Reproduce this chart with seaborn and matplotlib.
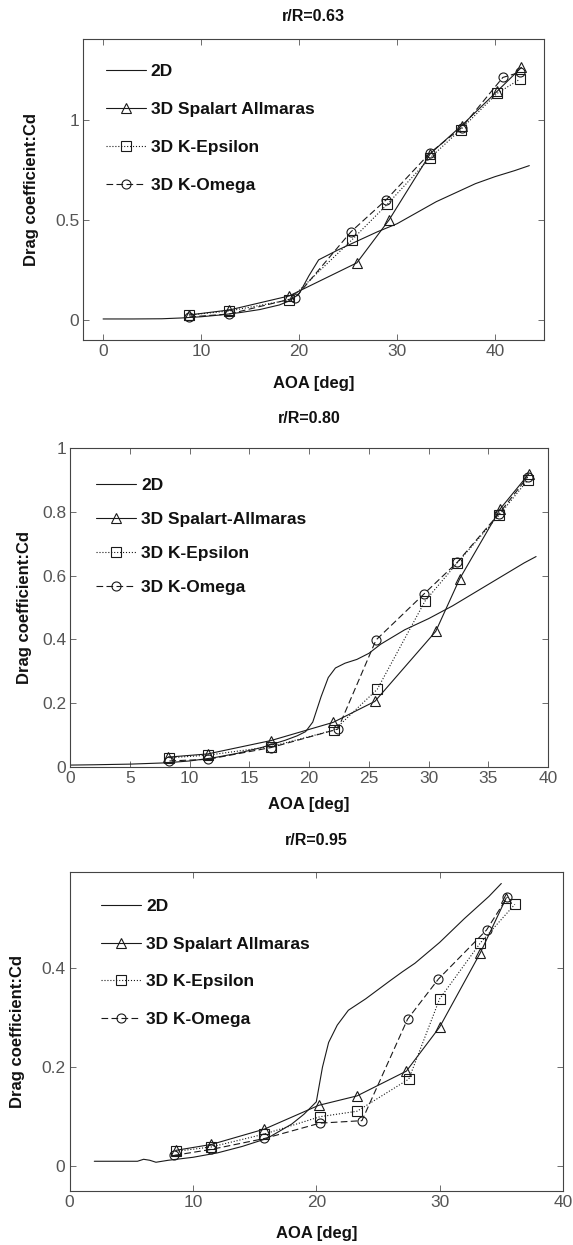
import numpy as np
import pandas as pd
import matplotlib
matplotlib.use("Agg")
import matplotlib.pyplot as plt
from matplotlib.ticker import FuncFormatter
import seaborn as sns

# ---------------- data ----------------
titles = ["r/R=0.63", "r/R=0.80", "r/R=0.95"]
sa_labels = ["3D Spalart Allmaras", "3D Spalart-Allmaras", "3D Spalart Allmaras"]
ke_label = "3D K-Epsilon"
ko_label = "3D K-Omega"
d2_label = "2D"
xlabel = "AOA [deg]"
ylabel = "Drag coefficient:Cd"

# panel 1 (r/R=0.63)
p1_2d_x = [0, 3, 6, 8, 10, 12, 14, 16, 18, 19, 20, 21, 22, 24, 26, 28, 30, 32, 34, 36, 38, 40, 42, 43.5]
p1_2d_y = [0.005, 0.005, 0.006, 0.01, 0.016, 0.025, 0.037, 0.052, 0.075, 0.095, 0.13, 0.22, 0.30, 0.35,
           0.395, 0.44, 0.48, 0.535, 0.59, 0.635, 0.68, 0.715, 0.745, 0.77]
p1_sa_x = [8.8, 12.9, 19.0, 25.9, 29.2, 33.4, 36.6, 40.2, 42.7]
p1_sa_y = [0.025, 0.05, 0.12, 0.285, 0.50, 0.83, 0.97, 1.14, 1.26]
p1_ke_x = [8.8, 12.9, 19.0, 25.4, 29.0, 33.4, 36.5, 40.2, 42.5]
p1_ke_y = [0.025, 0.045, 0.10, 0.40, 0.577, 0.81, 0.95, 1.13, 1.20]
p1_ko_x = [8.8, 12.9, 19.6, 25.3, 28.9, 33.4, 36.6, 40.8, 42.5]
p1_ko_y = [0.015, 0.03, 0.11, 0.44, 0.60, 0.835, 0.96, 1.21, 1.235]

# panel 2 (r/R=0.80)
p2_2d_x = [0, 2, 5, 8, 10, 12, 14, 16, 18, 19, 19.7, 20.3, 21, 21.6, 22.2, 23, 24, 25, 26, 28, 30, 32, 34,
           36, 38, 39]
p2_2d_y = [0.005, 0.006, 0.008, 0.012, 0.018, 0.028, 0.042, 0.06, 0.083, 0.097, 0.11, 0.14, 0.22, 0.28,
           0.31, 0.325, 0.337, 0.356, 0.385, 0.43, 0.465, 0.505, 0.55, 0.595, 0.64, 0.66]
p2_sa_x = [8.2, 11.5, 16.8, 22.0, 25.5, 30.6, 32.6, 36.0, 38.4]
p2_sa_y = [0.03, 0.04, 0.082, 0.139, 0.205, 0.425, 0.59, 0.81, 0.92]
p2_ke_x = [8.3, 11.5, 16.8, 22.1, 25.7, 29.7, 32.4, 35.9, 38.3]
p2_ke_y = [0.028, 0.036, 0.063, 0.115, 0.243, 0.52, 0.64, 0.79, 0.90]
p2_ko_x = [8.3, 11.5, 16.8, 22.4, 25.6, 29.6, 32.4, 35.9, 38.3]
p2_ko_y = [0.018, 0.023, 0.06, 0.118, 0.398, 0.542, 0.642, 0.795, 0.91]

# panel 3 (r/R=0.95)
p3_2d_x = [2, 4, 5.5, 6, 6.5, 7, 8, 10, 12, 14, 16, 18, 19, 20, 20.5, 21, 21.7, 22.6, 24, 26, 27, 28, 30,
           32, 34, 35]
p3_2d_y = [0.01, 0.01, 0.01, 0.014, 0.012, 0.008, 0.012, 0.018, 0.027, 0.04, 0.056, 0.085, 0.105, 0.13,
           0.2, 0.25, 0.285, 0.315, 0.338, 0.375, 0.393, 0.41, 0.452, 0.5, 0.545, 0.571]
p3_sa_x = [8.6, 11.5, 15.8, 20.2, 23.3, 27.3, 30.0, 33.3, 35.4]
p3_sa_y = [0.032, 0.044, 0.075, 0.123, 0.142, 0.192, 0.281, 0.431, 0.542]
p3_ke_x = [8.6, 11.5, 15.8, 20.3, 23.3, 27.5, 30.0, 33.3, 36.1]
p3_ke_y = [0.03, 0.039, 0.065, 0.10, 0.111, 0.176, 0.338, 0.451, 0.529]
p3_ko_x = [8.5, 11.5, 15.8, 20.3, 23.7, 27.4, 29.9, 33.8, 35.5]
p3_ko_y = [0.022, 0.034, 0.056, 0.087, 0.092, 0.297, 0.378, 0.477, 0.544]

# axis ticks / limits
p1_xticks = [0, 10, 20, 30, 40]
p1_yticks = [0, 0.5, 1]
p2_xticks = [0, 5, 10, 15, 20, 25, 30, 35, 40]
p2_yticks = [0, 0.2, 0.4, 0.6, 0.8, 1]
p3_xticks = [0, 10, 20, 30, 40]
p3_yticks = [0, 0.2, 0.4]
p1_xlim, p1_ylim = (-2, 45), (-0.1, 1.4)
p2_xlim, p2_ylim = (0, 40), (0, 1)
p3_xlim, p3_ylim = (0, 40), (-0.05, 0.595)

# ---------------- style ----------------
sns.set_theme(style="white")
plt.rcParams["font.family"] = ["Liberation Sans", "DejaVu Sans"]

LC = "#1a1a1a"
fig = plt.figure(figsize=(5.73, 12.45), dpi=100)

panels = [
    dict(rect=[0.1457, 0.7269, 0.8037, 0.2415], d2=(p1_2d_x, p1_2d_y), sa=(p1_sa_x, p1_sa_y),
         ke=(p1_ke_x, p1_ke_y), ko=(p1_ko_x, p1_ko_y), xt=p1_xticks, yt=p1_yticks, xl=p1_xlim, yl=p1_ylim,
         title=titles[0], sa_label=sa_labels[0], tpad=13.5, ylc=-0.097, xlc=-0.12,
         leg=(0.033, 0.94), lspace=1.3),
    dict(rect=[0.1227, 0.3842, 0.8337, 0.2557], d2=(p2_2d_x, p2_2d_y), sa=(p2_sa_x, p2_sa_y),
         ke=(p2_ke_x, p2_ke_y), ko=(p2_ko_x, p2_ko_y), xt=p2_xticks, yt=p2_yticks, xl=p2_xlim, yl=p2_ylim,
         title=titles[1], sa_label=sa_labels[1], tpad=18, ylc=-0.081, xlc=-0.094,
         leg=(0.039, 0.93), lspace=1.1),
    dict(rect=[0.1215, 0.0434, 0.8610, 0.2565], d2=(p3_2d_x, p3_2d_y), sa=(p3_sa_x, p3_sa_y),
         ke=(p3_ke_x, p3_ke_y), ko=(p3_ko_x, p3_ko_y), xt=p3_xticks, yt=p3_yticks, xl=p3_xlim, yl=p3_ylim,
         title=titles[2], sa_label=sa_labels[2], tpad=19, ylc=-0.091, xlc=-0.111,
         leg=(0.049, 0.935), lspace=1.28),
]

fmt = FuncFormatter(lambda v, p: "%g" % v)

for P in panels:
    ax = fig.add_axes(P["rect"])
    ax.set_facecolor("white")
    common = dict(ax=ax, color=LC, linewidth=0.8, sort=False, estimator=None, errorbar=None)
    sns.lineplot(x=P["d2"][0], y=P["d2"][1], linestyle="-", label=d2_label, **common)
    sns.lineplot(x=P["sa"][0], y=P["sa"][1], linestyle="-", marker="^", markersize=7,
                 markerfacecolor="none", markeredgecolor=LC, markeredgewidth=0.8,
                 label=P["sa_label"], **common)
    sns.lineplot(x=P["ke"][0], y=P["ke"][1], linestyle=":", marker="s", markersize=6.5,
                 markerfacecolor="none", markeredgecolor=LC, markeredgewidth=0.8,
                 label=ke_label, **common)
    sns.lineplot(x=P["ko"][0], y=P["ko"][1], linestyle=(0, (6, 3)), marker="o", markersize=6.5,
                 markerfacecolor="none", markeredgecolor=LC, markeredgewidth=0.8,
                 label=ko_label, **common)

    ax.set_xlim(*P["xl"])
    ax.set_ylim(*P["yl"])
    ax.set_xticks(P["xt"])
    ax.set_yticks(P["yt"])
    ax.xaxis.set_major_formatter(fmt)
    ax.yaxis.set_major_formatter(fmt)
    ax.tick_params(direction="in", length=4, width=0.6, colors="#555555", labelsize=12.5,
                   top=True, right=True, bottom=True, left=True, pad=3)
    for lab in ax.get_xticklabels() + ax.get_yticklabels():
        lab.set_color("#555555")
    for s in ax.spines.values():
        s.set_color("#444444")
        s.set_linewidth(0.8)
        s.set_visible(True)

    ax.set_xlabel(xlabel, fontsize=12, fontweight="bold", color="#111111")
    ax.set_ylabel(ylabel, fontsize=12, fontweight="bold", color="#111111")
    ax.yaxis.set_label_coords(P["ylc"], 0.5)
    ax.xaxis.set_label_coords(0.5, P["xlc"])
    ax.set_title(P["title"], fontsize=11.5, fontweight="bold", color="#111111", pad=P["tpad"])

    leg = ax.legend(loc="upper left", bbox_to_anchor=P["leg"], frameon=False,
                    prop=dict(size=12.5, weight="bold"), handlelength=2.3, handletextpad=0.3,
                    labelspacing=P["lspace"], borderaxespad=0.0, numpoints=1)
    for t in leg.get_texts():
        t.set_color("#111111")

fig.savefig("out.png", dpi=100, facecolor="white")
